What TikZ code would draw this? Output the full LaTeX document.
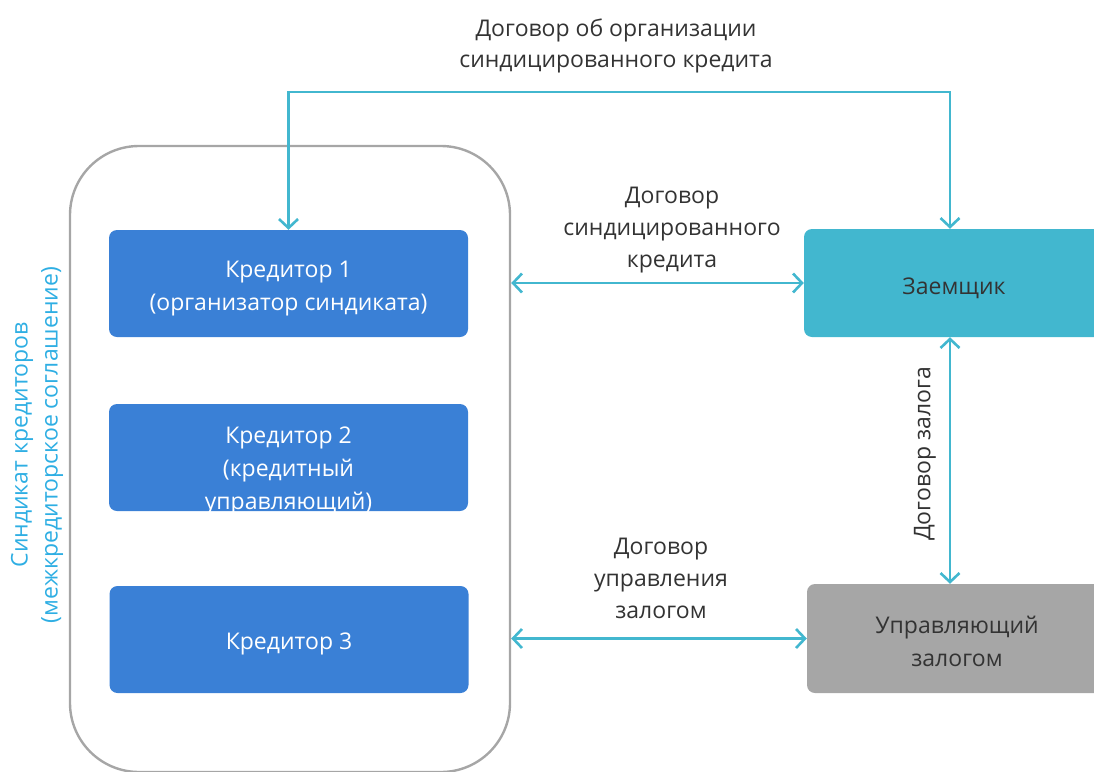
\documentclass[tikz,border=0pt]{standalone}
\usepackage{fontspec}
\setmainfont{Open Sans}
\usetikzlibrary{arrows.meta, positioning}
\definecolor{kblue}{HTML}{3A80D6}
\definecolor{zcyan}{HTML}{42B7CF}
\definecolor{mgray}{HTML}{A6A6A6}
\definecolor{ltext}{HTML}{2EAEE3}
\definecolor{dtext}{HTML}{333333}

\begin{document}
\begin{tikzpicture}[x=1pt, y=-1pt,
  box/.style = {rounded corners=8pt, minimum width=359pt, minimum height=107pt},
  boxtext/.style = {align=center, font=\fontsize{23}{33}\selectfont},
  lender/.style = {box, fill=kblue, label={[boxtext, text=white, yshift=-#1]center:\lendertext}},
  link/.style = {draw=zcyan, line width=2.6pt, {Straight Barb[length=9pt,width=19pt]}-{Straight Barb[length=9pt,width=19pt]}},
  lbl/.style = {align=center, text=dtext, font=\fontsize{23}{32}\selectfont}]
      \useasboundingbox (0,0) rectangle (1094,771);
      \clip (0,0) rectangle (1094,771);

      \node[draw=mgray, line width=2.4pt, rounded corners=69pt, minimum width=440pt, minimum height=626pt] (synd) at (290,459) {};

      \def\lendertext{Кредитор 1\\(организатор синдиката)}
      \node[lender=5pt] (k1) at (288.5,283.5) {};
      \def\lendertext{Кредитор 2\\(кредитный\\управляющий)}
      \node[lender=13pt] (k2) at (288.5,457.5) {};
      \def\lendertext{Кредитор 3}
      \node[lender=4pt] (k3) at (289,639.5) {};
      \node[box, fill=zcyan, minimum width=300pt, minimum height=108pt,
        label={[boxtext, text=dtext, yshift=-5pt]center:Заемщик}] (zaem) at (954,283) {};
      \node[box, fill=mgray, minimum width=300pt, minimum height=109pt,
        label={[boxtext, text=dtext, yshift=-3pt]center:Управляющий\\залогом}] (upr) at (957,638.5) {};

      \node[rotate=90, align=center, text=ltext, font=\fontsize{23}{30}\selectfont] (syndlbl) at (37,445)
        {Синдикат кредиторов\\(межкредиторское соглашение)};

      \coordinate (top) at (0,92);
      \draw[link] (k1.north) -- (k1.north |- top) -| ([xshift=-4pt]zaem.north);
      \draw[link] (synd.east |- zaem.west) -- (zaem.west);
      \draw[link] (synd.east |- upr.west) -- (upr.west);
      \draw[link] ([xshift=-4pt]zaem.south) -- ([xshift=-7pt]upr.north);

      \node[lbl, font=\fontsize{23}{31}\selectfont] (t1) at (616,46) {Договор об организации\\синдицированного кредита};
      \node[lbl] (t2) at (672,230) {Договор\\синдицированного\\кредита};
      \node[lbl] (t3) at (661,578) {Договор\\управления\\залогом};
      \node[lbl, rotate=90] (t4) at (925,454) {Договор залога};
    \end{tikzpicture}
\end{document}
